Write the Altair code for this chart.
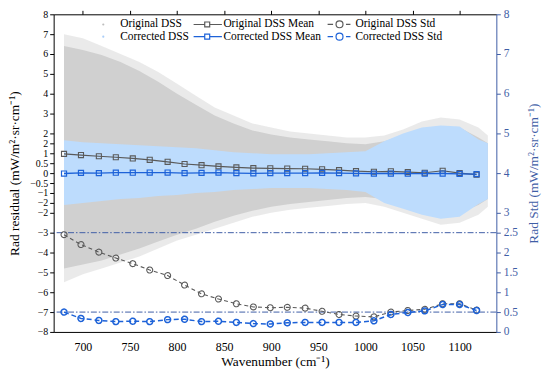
import altair as alt
import pandas as pd

# ---------------- data ----------------
# marker wavenumbers of the mean / std curves
wn = [680, 698, 717, 735, 753, 771, 790, 808, 826, 844, 863, 881, 899,
      917, 936, 954, 972, 990, 1009, 1027, 1045, 1063, 1082, 1100, 1118]
mean_orig = [0.97, 0.91, 0.85, 0.80, 0.74, 0.67, 0.57, 0.46, 0.40, 0.34, 0.29, 0.25, 0.24,
             0.23, 0.22, 0.19, 0.15, 0.10, 0.07, 0.09, 0.05, 0.02, 0.12, 0.00, -0.08]
mean_corr = [-0.02, 0.01, 0.00, 0.02, 0.02, 0.03, 0.03, 0.00, 0.01, 0.03, 0.00, -0.01, 0.00,
             0.00, 0.00, 0.01, 0.00, -0.01, -0.02, -0.02, -0.03, -0.03, -0.02, -0.04, -0.05]
std_orig = [2.45, 2.20, 2.01, 1.86, 1.72, 1.56, 1.42, 1.18, 0.96, 0.83, 0.71, 0.63, 0.61,
            0.62, 0.60, 0.52, 0.44, 0.40, 0.38, 0.50, 0.54, 0.57, 0.71, 0.71, 0.55]
std_corr = [0.50, 0.34, 0.29, 0.26, 0.27, 0.26, 0.31, 0.32, 0.26, 0.27, 0.24, 0.21, 0.20,
            0.23, 0.24, 0.24, 0.24, 0.24, 0.28, 0.44, 0.49, 0.53, 0.69, 0.69, 0.54]

# envelopes of the scatter clouds (Rad residual)
cloud_wn = [680, 700, 720, 740, 760, 780, 800, 820, 840, 860, 880, 900, 920, 940,
            960, 980, 1000, 1020, 1040, 1060, 1080, 1100, 1120, 1130]
orig_sparse_hi = [7.0, 6.8, 6.4, 6.0, 5.6, 5.1, 4.5, 3.9, 3.3, 2.9, 2.5, 2.3, 2.1, 2.0,
                  1.9, 1.8, 1.8, 1.9, 2.2, 2.6, 2.8, 2.7, 2.3, 1.9]
orig_sparse_lo = [-5.5, -5.1, -4.8, -4.5, -4.2, -3.8, -3.4, -3.1, -2.8, -2.5, -2.2, -2.0, -1.85, -1.75,
                  -1.65, -1.55, -1.5, -1.7, -2.0, -2.3, -2.6, -2.5, -2.1, -1.7]
orig_hi = [6.4, 6.2, 5.95, 5.6, 5.15, 4.6, 4.0, 3.45, 2.9, 2.5, 2.15, 1.95, 1.8, 1.7,
           1.6, 1.5, 1.45, 1.6, 1.9, 2.2, 2.3, 2.3, 1.8, 1.5]
orig_lo = [-4.8, -4.6, -4.4, -4.1, -3.8, -3.45, -3.1, -2.8, -2.45, -2.15, -1.9, -1.7, -1.55, -1.45,
           -1.35, -1.25, -1.2, -1.3, -1.6, -1.9, -2.1, -2.0, -1.6, -1.3]
corr_hi = [1.65, 1.55, 1.5, 1.45, 1.4, 1.35, 1.3, 1.25, 1.15, 1.05, 1.0, 0.95, 0.95, 0.95,
           1.0, 1.05, 1.1, 1.6, 2.0, 2.3, 2.4, 2.35, 1.7, 1.5]
corr_lo = [-1.6, -1.5, -1.4, -1.3, -1.25, -1.15, -1.1, -1.0, -0.95, -0.85, -0.8, -0.75, -0.75, -0.75,
           -0.8, -0.85, -0.95, -1.5, -1.8, -2.1, -2.3, -2.2, -1.55, -1.3]

# reference levels on the Rad Std axis
ref_levels = [2.5, 0.5]

left_ticks = [-8, -7, -6, -5, -4, -3, -2, -1.5, -1, -0.5, 0, 0.5, 1, 1.5, 2, 3, 4, 5, 6, 7, 8]
right_ticks = [0, 0.5, 1, 1.5, 2, 2.5, 3, 4, 5, 6, 7, 8]
x_ticks = [700, 750, 800, 850, 900, 950, 1000, 1050, 1100]

# legend entries (two rows, three columns)
legend_order = ["Original DSS", "Corrected DSS", "Original DSS Mean",
                "Corrected DSS Mean", "Original DSS Std", "Corrected DSS Std"]

# ---------------- styles ----------------
FONT = "Liberation Serif"
GRAY_CLOUD = "#d0d0d0"
BLUE_CLOUD = "#bddcfd"
GRAY_LINE = "#5a5a5a"
BLUE_LINE = "#1d62d8"
AXIS_BLUE = "#3f5ea6"

legend_colors = ["#bdbdbd", "#a9cdf8", GRAY_LINE, BLUE_LINE, GRAY_LINE, BLUE_LINE]
dot_path = "M2.1,0A0.1,0.1,0,1,1,1.9,0A0.1,0.1,0,1,1,2.1,0"
mean_path = "M-0.6,0L1.64,0M2.64,0L5.1,0M1.64,-0.5L2.64,-0.5L2.64,0.5L1.64,0.5Z"
std_path = ("M-0.2,0L0.9,0M3.5,0L4.4,0"
            "M2.9,0A0.7,0.7,0,1,1,1.5,0A0.7,0.7,0,1,1,2.9,0")
legend_paths = [dot_path, dot_path, mean_path, mean_path, std_path, std_path]

lines_df = pd.DataFrame({"wn": wn, "mean_orig": mean_orig, "mean_corr": mean_corr,
                         "std_orig": std_orig, "std_corr": std_corr})
cloud_df = pd.DataFrame({"wn": cloud_wn, "os_hi": orig_sparse_hi, "os_lo": orig_sparse_lo,
                         "o_hi": orig_hi, "o_lo": orig_lo, "c_hi": corr_hi, "c_lo": corr_lo})
ref_df = pd.DataFrame({"level": ref_levels})
legend_df = pd.DataFrame({"series": legend_order})

W, H = 446, 320

xscale = alt.Scale(domain=[669, 1139], nice=False, zero=False)
yl = alt.Scale(domain=[-8, 8], nice=False, zero=False)
yr = alt.Scale(domain=[0, 8], nice=False, zero=False)

bottom_axis = alt.Axis(orient="bottom", values=x_ticks, format="d", tickSize=0, labelPadding=10,
                       domainColor="black", labelColor="black", labelFont=FONT, labelFontSize=12,
                       labelFlush=False, grid=False, title="Wavenumber (cm⁻¹)", titleFont=FONT,
                       titleFontSize=13.5, titleFontWeight="normal", titleColor="black",
                       titleX=W / 2, titleY=30, titleBaseline="middle", titleAlign="center")
top_axis = alt.Axis(orient="top", values=x_ticks, labels=False, tickSize=4, tickColor="black",
                    domainColor="black", grid=False, title="")
left_axis = alt.Axis(orient="left", values=left_ticks, format="~g", tickSize=4, labelPadding=2,
                     domainColor="black", tickColor="black", labelColor="black", labelFont=FONT,
                     labelFontSize=10, labelOverlap=False, grid=False,
                     title="Rad residual (mW/m²·sr·cm⁻¹)", titleFont=FONT, titleFontSize=13.5,
                     titleFontWeight="normal", titleColor="black", titleX=-39, titleY=H / 2,
                     titleAngle=270, titleAlign="center", titleBaseline="middle")
right_axis = alt.Axis(orient="right", values=right_ticks, format="~g", tickSize=4, labelPadding=3,
                      domainColor=AXIS_BLUE, tickColor=AXIS_BLUE, labelColor=AXIS_BLUE,
                      labelFont=FONT, labelFontSize=11.5, labelOverlap=False, grid=False,
                      title="Rad Std (mW/m²·sr·cm⁻¹)", titleFont=FONT, titleFontSize=13.5,
                      titleFontWeight="normal", titleColor=AXIS_BLUE, titleX=37, titleY=H / 2,
                      titleAngle=270, titleAlign="center", titleBaseline="middle")

XB = alt.X("wn:Q", scale=xscale, axis=bottom_axis)
XT = alt.X("wn:Q", scale=xscale, axis=top_axis)

# ---------------- left (residual) layers ----------------
cloud_base = alt.Chart(cloud_df)
g_sparse = cloud_base.mark_area(color=GRAY_CLOUD, opacity=0.45).encode(
    x=XB, y=alt.Y("os_hi:Q", scale=yl, axis=left_axis), y2="os_lo:Q")
g_dense = cloud_base.mark_area(color=GRAY_CLOUD).encode(
    x=XB, y=alt.Y("o_hi:Q", scale=yl, axis=left_axis), y2="o_lo:Q")
b_dense = cloud_base.mark_area(color=BLUE_CLOUD).encode(
    x=XB, y=alt.Y("c_hi:Q", scale=yl, axis=left_axis), y2="c_lo:Q")

line_base = alt.Chart(lines_df)
m_orig = line_base.mark_line(color=GRAY_LINE, strokeWidth=1.2,
                             point=alt.OverlayMarkDef(shape="square", filled=False, size=26,
                                                      color=GRAY_LINE, strokeWidth=1.1)).encode(
    x=XB, y=alt.Y("mean_orig:Q", scale=yl, axis=left_axis))
m_corr = line_base.mark_line(color=BLUE_LINE, strokeWidth=1.3,
                             point=alt.OverlayMarkDef(shape="square", filled=False, size=26,
                                                      color=BLUE_LINE, strokeWidth=1.2)).encode(
    x=XB, y=alt.Y("mean_corr:Q", scale=yl, axis=left_axis))

left = alt.layer(g_sparse, g_dense, b_dense, m_orig, m_corr)

# ---------------- right (std) layers ----------------
rules = alt.Chart(ref_df).mark_rule(color=AXIS_BLUE, strokeWidth=1, strokeDash=[6, 2, 1.5, 2]).encode(
    y=alt.Y("level:Q", scale=yr, axis=right_axis))
s_orig = line_base.mark_line(color=GRAY_LINE, strokeWidth=1.1, strokeDash=[4, 3],
                             point=alt.OverlayMarkDef(shape="circle", filled=False, size=36,
                                                      color=GRAY_LINE, strokeWidth=1.1,
                                                      strokeDash=[1, 0])).encode(
    x=XT, y=alt.Y("std_orig:Q", scale=yr, axis=right_axis))
s_corr = line_base.mark_line(color=BLUE_LINE, strokeWidth=1.5, strokeDash=[5, 3],
                             point=alt.OverlayMarkDef(shape="circle", filled=False, size=36,
                                                      color=BLUE_LINE, strokeWidth=1.5,
                                                      strokeDash=[1, 0])).encode(
    x=XT, y=alt.Y("std_corr:Q", scale=yr, axis=right_axis))

leg = alt.Legend(title=None, orient="none", legendX=34, legendY=4, columns=3, columnPadding=1,
                 rowPadding=0.5, labelOffset=21, labelFont=FONT, labelFontSize=11.5,
                 labelColor="black", symbolSize=100, symbolStrokeWidth=1.2, padding=0,
                 symbolOpacity=1, direction="vertical")
legend_layer = alt.Chart(legend_df).mark_point(opacity=0, size=100, filled=False).encode(
    color=alt.Color("series:N", scale=alt.Scale(domain=legend_order, range=legend_colors), legend=leg),
    shape=alt.Shape("series:N", scale=alt.Scale(domain=legend_order, range=legend_paths), legend=leg),
)

right = alt.layer(rules, s_orig, s_corr, legend_layer)

chart = alt.layer(left, right).resolve_scale(y="independent").resolve_axis(
    x="independent", y="independent"
).properties(
    width=W, height=H,
    autosize=alt.AutoSizeParams(type="none"),
    padding={"left": 46, "top": 5, "right": 46, "bottom": 38},
).configure_view(stroke=None)

chart.save("out.html", embed_options={"renderer": "svg", "actions": False})
